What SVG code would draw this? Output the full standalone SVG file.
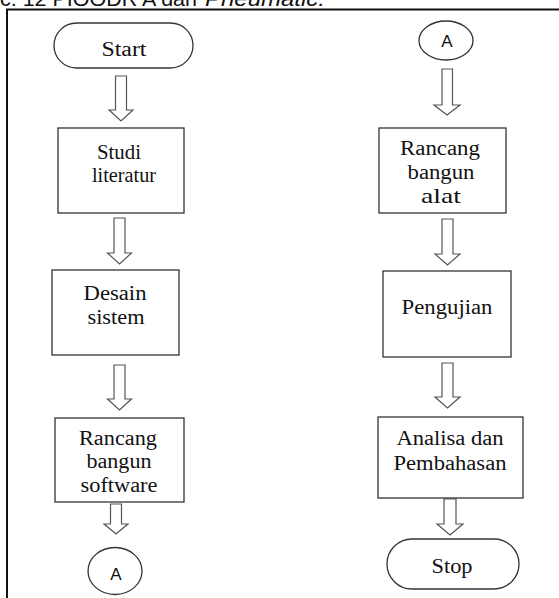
<svg xmlns="http://www.w3.org/2000/svg" width="559" height="598" viewBox="0 0 559 598">
<defs>
<style>
.box{fill:#fff;stroke:#333;stroke-width:1.3}
.arr{fill:#fff;stroke:#555;stroke-width:1.2;stroke-linejoin:miter}
.t{font-family:"Liberation Serif","Times New Roman",serif;font-size:20px;fill:#111;text-anchor:middle}
.s{font-family:"Liberation Sans",Arial,sans-serif;font-size:17px;fill:#111;text-anchor:middle}
.cap{font-family:"Liberation Sans",Arial,sans-serif;font-size:20px;fill:#111}
.frame{fill:none;stroke:#111;stroke-width:2}
</style>
</defs>
<rect width="559" height="598" fill="#fff"/>
<text class="cap" x="0" y="6" textLength="197" lengthAdjust="spacingAndGlyphs">c. 12 PIOODR A dan</text>
<text class="cap" x="205" y="6" font-style="italic" textLength="120" lengthAdjust="spacingAndGlyphs">Pneumatic.</text>
<path class="frame" d="M7,598 V9.5 H559"/>

<g id="connectors">
<path class="arr" d="M115.5,76 H126.5 V110 H133 L121,121 L109,110 H115.5 Z"/>
<path class="arr" d="M114,218 H125 V253 H131.5 L119.5,264 L107.5,253 H114 Z"/>
<path class="arr" d="M114,365 H125 V399 H131.5 L119.5,410 L107.5,399 H114 Z"/>
<path class="arr" d="M110.5,504 H121.5 V524 H128 L116,534 L104,524 H110.5 Z"/>
<path class="arr" d="M442,69 H452.5 V105 H460 L447,115 L434,105 H442 Z"/>
<path class="arr" d="M442,219 H453 V254 H460 L447.5,265 L435,254 H442 Z"/>
<path class="arr" d="M442,363 H453 V397 H460 L447.5,408 L435,397 H442 Z"/>
<path class="arr" d="M444,499 H456 V524 H463 L450,535 L437,524 H444 Z"/>
</g>

<g id="start">
<rect class="box" x="54" y="23" width="139" height="45" rx="22.5"/>
<text class="t" x="124" y="56" textLength="45" lengthAdjust="spacingAndGlyphs">Start</text>
</g>
<g id="studi-literatur">
<rect class="box" x="58" y="128" width="126" height="85"/>
<text class="t" x="119" y="159" textLength="44" lengthAdjust="spacingAndGlyphs">Studi</text>
<text class="t" x="124" y="182" style="font-size:21px" textLength="64" lengthAdjust="spacingAndGlyphs">literatur</text>
</g>
<g id="desain-sistem">
<rect class="box" x="52" y="270" width="127" height="85"/>
<text class="t" x="115" y="300" textLength="63" lengthAdjust="spacingAndGlyphs">Desain</text>
<text class="t" x="116" y="324" textLength="57" lengthAdjust="spacingAndGlyphs">sistem</text>
</g>
<g id="rancang-software">
<rect class="box" x="55" y="418" width="129" height="84"/>
<text class="t" x="118" y="445" textLength="78" lengthAdjust="spacingAndGlyphs">Rancang</text>
<text class="t" x="119" y="468" textLength="65" lengthAdjust="spacingAndGlyphs">bangun</text>
<text class="t" x="119" y="492" textLength="77" lengthAdjust="spacingAndGlyphs">software</text>
</g>
<g id="connector-a-out">
<ellipse class="box" cx="115" cy="571" rx="27" ry="23.5"/>
<text class="s" x="116" y="580">A</text>
</g>

<g id="connector-a-in">
<ellipse class="box" cx="446" cy="40.5" rx="27" ry="19.5"/>
<text class="s" x="447" y="47">A</text>
</g>
<g id="rancang-alat">
<rect class="box" x="379" y="128" width="127" height="85"/>
<text class="t" x="440" y="155" textLength="80" lengthAdjust="spacingAndGlyphs">Rancang</text>
<text class="t" x="441" y="179" textLength="67" lengthAdjust="spacingAndGlyphs">bangun</text>
<text class="t" x="441" y="203" style="font-size:21px" textLength="40" lengthAdjust="spacingAndGlyphs">alat</text>
</g>
<g id="pengujian">
<rect class="box" x="383" y="271" width="128" height="86"/>
<text class="t" x="447" y="314" textLength="91" lengthAdjust="spacingAndGlyphs">Pengujian</text>
</g>
<g id="analisa">
<rect class="box" x="378" y="417" width="145" height="81"/>
<text class="t" x="450" y="445" textLength="107" lengthAdjust="spacingAndGlyphs">Analisa dan</text>
<text class="t" x="450" y="470" textLength="113" lengthAdjust="spacingAndGlyphs">Pembahasan</text>
</g>
<g id="stop">
<rect class="box" x="387" y="539" width="132" height="50" rx="25"/>
<text class="t" x="452" y="573" textLength="41" lengthAdjust="spacingAndGlyphs">Stop</text>
</g>
</svg>
